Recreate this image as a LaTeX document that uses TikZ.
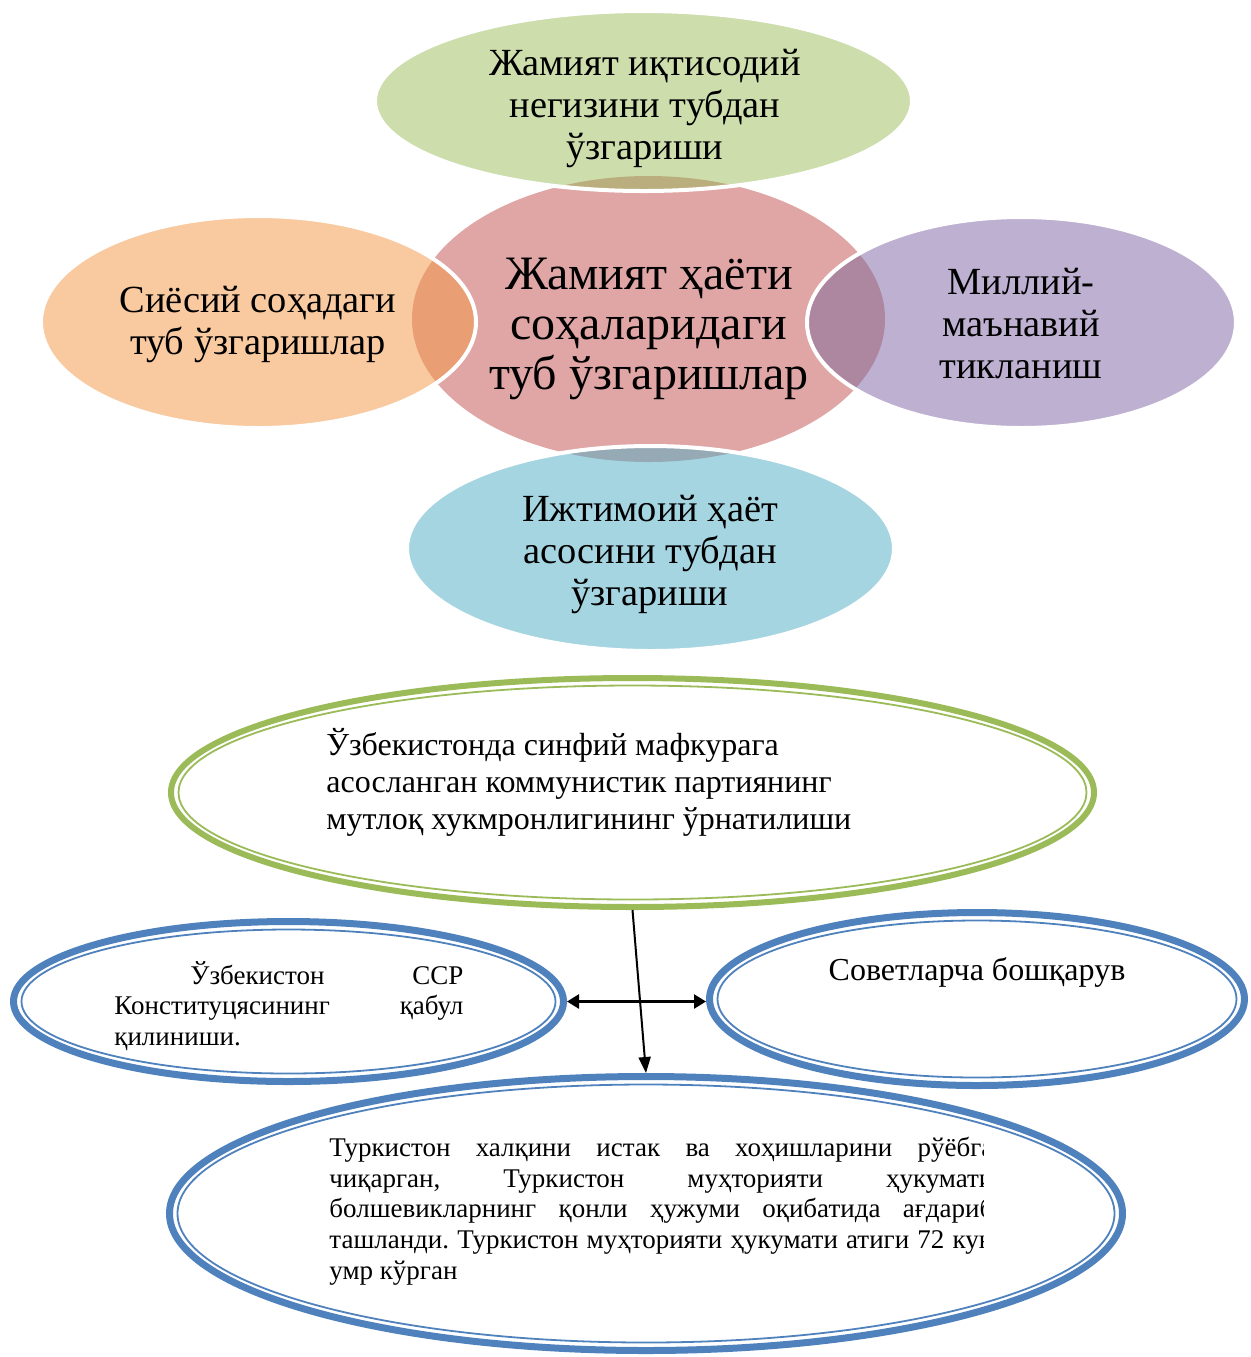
\documentclass[tikz,border=0pt]{standalone}
\usepackage{fontspec}
\setmainfont{Liberation Serif}
\usetikzlibrary{positioning}
\usetikzlibrary{shapes.geometric}
\usetikzlibrary{arrows.meta}

\definecolor{hubpink}{HTML}{DFA6A5}
\definecolor{petalgreen}{HTML}{CDDDAC}
\definecolor{petalorange}{HTML}{F9C9A0}
\definecolor{petalpurple}{HTML}{BEB0D1}
\definecolor{petalblue}{HTML}{A6D5E2}
\definecolor{mixgreen}{HTML}{BBAE7E}
\definecolor{mixorange}{HTML}{E99E73}
\definecolor{mixpurple}{HTML}{AD86A0}
\definecolor{mixblue}{HTML}{96AAB5}
\definecolor{ringgreen}{HTML}{9BBB59}
\definecolor{ringblue}{HTML}{4F81BD}

\newcommand{\spreadline}[2]{\makebox[#1][s]{#2}}
\frenchspacing

\tikzset{
	petaltext/.style={align=center, inner sep=0pt, font=\fontsize{19.2}{21}\selectfont},
	hubtext/.style={align=center, inner sep=0pt, font=\fontsize{24}{25}\selectfont},
	ring/.style={ellipse, draw, line width=3pt, inner sep=0pt},
	innerring/.style={ellipse, draw, line width=0.9pt, inner sep=0pt},
	ringtext/.style={align=left, inner sep=0pt}
}

\begin{document}
\begin{tikzpicture}[x=0.5pt, y=-0.5pt]
	\useasboundingbox (0,0) rectangle (1251,1357);

	% central ellipse and the four petals
	\fill[hubpink] (648.5,319) ellipse [x radius=118.25pt, y radius=71.5pt];
	\foreach \cx/\cy/\rx/\ry/\col/\mix in {
		643.5/101/134.25pt/45pt/petalgreen/mixgreen,
		258.5/322/108.75pt/53pt/petalorange/mixorange,
		1021.5/322.5/107.25pt/52.75pt/petalpurple/mixpurple,
		650.5/548.5/121.75pt/51.25pt/petalblue/mixblue} {
		\fill[\col] (\cx,\cy) ellipse [x radius=\rx, y radius=\ry];
		\begin{scope}
			\clip (648.5,319) ellipse [x radius=118.25pt, y radius=71.5pt];
			\fill[\mix] (\cx,\cy) ellipse [x radius=\rx, y radius=\ry];
		\end{scope}
		\draw[white, line width=2pt] (\cx,\cy) ellipse [x radius=\rx, y radius=\ry];
	}

	\node[hubtext] (hub) at (649,329) {Жамият ҳаёти\\соҳаларидаги\\туб ўзгаришлар};
	\node[petaltext] (econ) at (645,108) {Жамият иқтисодий\\негизини тубдан\\ўзгариши};
	\node[petaltext] (polit) at (258,324) {Сиёсий соҳадаги\\туб ўзгаришлар};
	\node[petaltext] (spirit) at (1021,324) {Миллий-\\маънавий\\тикланиш};
	\node[petaltext] (social) at (650,554) {Ижтимоий ҳаёт\\асосини тубдан\\ўзгариши};

	% lower part
	\node[ring, draw=ringgreen, minimum width=461.5pt, minimum height=114.5pt] (party) at (632.5,792.5) {};
	\node[innerring, draw=ringgreen, minimum width=454pt, minimum height=107pt] (party-in) at (party) {};
	\node[ringtext, anchor=west, font=\fontsize{16}{18.5}\selectfont] (partytext) at (326,782)
		{Ўзбекистонда синфий мафкурага\\асосланган коммунистик партиянинг\\мутлоқ хукмронлигининг ўрнатилиши};

	\node[ring, draw=ringblue, line width=3.5pt, minimum width=275pt, minimum height=80pt] (konst) at (288.5,1001.5) {};
	\node[innerring, draw=ringblue, minimum width=267pt, minimum height=72pt] (konst-in) at (konst) {};
	\node[ringtext, anchor=west, font=\fontsize{13.5}{15.25}\selectfont] (konsttext) at (114,1006)
		{\spreadline{174.5pt}{\hspace*{38pt}Ўзбекистон ССР}\\\spreadline{174.5pt}{Конституцясининг қабул}\\қилиниши.};

	\node[ring, draw=ringblue, line width=3.5pt, minimum width=267.5pt, minimum height=86.5pt] (sovet) at (977,999) {};
	\node[innerring, draw=ringblue, minimum width=259.5pt, minimum height=78.5pt] (sovet-in) at (sovet) {};
	\node[font=\fontsize{16}{18.5}\selectfont, inner sep=0pt] (sovettext) at (977,972) {Советларча бошқарув};

	\node[ring, draw=ringblue, line width=3.5pt, minimum width=476.5pt, minimum height=137pt] (turk) at (646,1213.5) {};
	\node[innerring, draw=ringblue, minimum width=468.5pt, minimum height=129pt] (turk-in) at (turk) {};
	\begin{scope}
		\clip (300,1100) rectangle (983,1320);
		\node[ringtext, anchor=west, font=\fontsize{13.5}{15.35}\selectfont] (turktext) at (329,1211)
			{\spreadline{332pt}{Туркистон халқини истак ва хоҳишларини рўёбга}\\
			\spreadline{332pt}{чиқарган, Туркистон муҳторияти ҳукумати}\\
			\spreadline{332pt}{болшевикларнинг қонли ҳужуми оқибатида ағдариб}\\
			\spreadline{332pt}{ташланди. Туркистон муҳторияти ҳукумати атиги 72 кун}\\
			умр кўрган};
	\end{scope}

	\draw[line width=1pt, -{Triangle[length=8pt, width=6pt]}] (party.south) -- (turk.north);
	\draw[line width=1.3pt, {Triangle[length=6pt, width=7pt]}-{Triangle[length=6pt, width=7pt]}] (konst.east) -- (konst.east -| sovet.west);
\end{tikzpicture}
\end{document}
